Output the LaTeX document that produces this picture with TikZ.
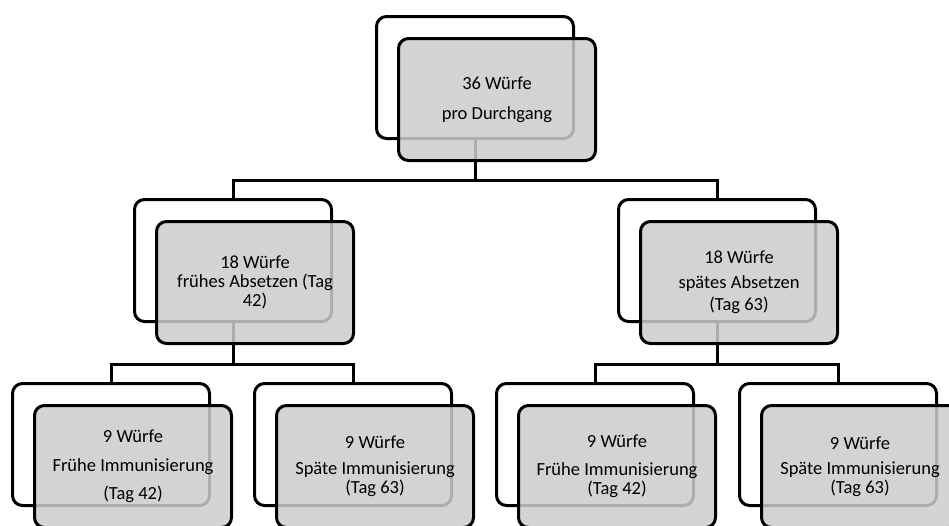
\documentclass[tikz,border=0pt]{standalone}
\usepackage{fontspec}
\setmainfont{Carlito}
\usetikzlibrary{positioning}
\usetikzlibrary{calc}

\begin{document}
\begin{tikzpicture}[x=1pt, y=-1pt,
	backbox/.style={draw=black, line width=3pt, rounded corners=10pt, fill=white, minimum width=197pt, minimum height=122pt, inner sep=0pt},
	frontbox/.style={backbox, fill=fgrey, fill opacity=0.85, text opacity=1, align=center, font=\fontsize{18.5}{19}\selectfont},
	link/.style={line width=3pt, black}]
		% Breeding groups per run, split by weaning and immunisation

% Colors

\definecolor{fgrey}{rgb}{0.8,0.8,0.8}

\useasboundingbox (0,0) rectangle (949,525);
\clip (0,0) rectangle (949,525);

% Outline
\coordinate (c1) at (475,77.5);
\coordinate (c2) at (233,260.5);
\coordinate (c3) at (717,260.5);
\coordinate (c4) at (111,444.5);
\coordinate (c5) at (353,444.5);
\coordinate (c6) at (595,444.5);
\coordinate (c7) at (838,444.5);
\coordinate (j1) at (475,180);
\coordinate (j2) at (233,364);
\coordinate (j3) at (717,364);

% Back boxes
\node[backbox] (b1) at (c1) {};
\node[backbox] (b2) at (c2) {};
\node[backbox] (b3) at (c3) {};
\node[backbox] (b4) at (c4) {};
\node[backbox] (b5) at (c5) {};
\node[backbox] (b6) at (c6) {};
\node[backbox] (b7) at (c7) {};

% Connections
\draw[link] (b1.south) -- (j1) -| (b2.north);
\draw[link] (j1) -| (b3.north);
\draw[link] (b2.south) -- (j2) -| (b4.north);
\draw[link] (j2) -| (b5.north);
\draw[link] (b3.south) -- (j3) -| (b6.north);
\draw[link] (j3) -| (b7.north);

% Front boxes
\node[frontbox] (f1) at ($(c1)+(22,22)$) {36 Würfe\\[11pt]pro Durchgang};
\node[frontbox] (f2) at ($(c2)+(22,22)$) {18 Würfe\\frühes Absetzen (Tag\\42)};
\node[frontbox] (f3) at ($(c3)+(22,22)$) {18 Würfe\\[6pt]spätes Absetzen\\[3pt](Tag 63)};
\node[frontbox] (f4) at ($(c4)+(22,22)$) {9 Würfe\\[10pt]Frühe Immunisierung\\[9pt](Tag 42)};
\node[frontbox] (f5) at ($(c5)+(22,22)$) {9 Würfe\\[7pt]Späte Immunisierung\\(Tag 63)};
\node[frontbox] (f6) at ($(c6)+(22,22)$) {9 Würfe\\[9pt]Frühe Immunisierung\\(Tag 42)};
\node[frontbox] (f7) at ($(c7)+(22,22)$) {9 Würfe\\[6pt]Späte Immunisierung\\(Tag 63)};
	\end{tikzpicture}
\end{document}
